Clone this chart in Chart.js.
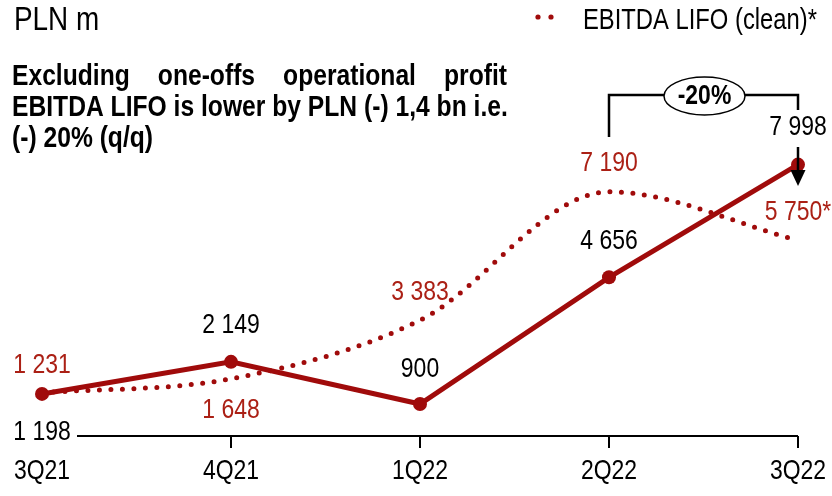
<!DOCTYPE html>
<html>
<head>
<meta charset="utf-8">
<script src="https://cdn.jsdelivr.net/npm/chart.js@4.4.1/dist/chart.umd.min.js"></script>
<style>
  html, body { margin: 0; padding: 0; background: #fff; }
  #chart { display: block; }
</style>
</head>
<body>
<canvas id="chart" width="832" height="496"></canvas>
<script>
// Data
const quarters = ['3Q21', '4Q21', '1Q22', '2Q22', '3Q22'];
const ebitdaLifo = [1198, 2149, 900, 4656, 7998];
const ebitdaLifoClean = [1231, 1648, 3383, 7190, 5750];
const cleanSuffix = ['', '', '', '', '*'];

// Label offsets (px from the point, vertical)
const lifoLabelDy = [38, -37, -35, -36, -37];
const cleanLabelDy = [-28, 32, -28, -29, -28];

const RED = '#a00b0b';
const RED_TEXT = '#ab2015';
// no Arial Narrow here: Liberation Sans squeezed horizontally instead
const FONT = '"Liberation Sans", Arial, sans-serif';
const NARROW = 0.82;

const fmt = (v) => String(v).replace(/\B(?=(\d{3})+(?!\d))/g, ' ');

function narrowText(ctx, text, x, y, sx = NARROW) {
  ctx.save();
  ctx.translate(x, y);
  ctx.scale(sx, 1);
  ctx.fillText(text, 0, 0);
  ctx.restore();
}

// Decorations: axis line, tick labels, value labels, title, legend, note, -20% bracket
const annotations = {
  id: 'annotations',
  beforeDatasetsDraw(chart) {
    const { ctx, chartArea, scales } = chart;
    ctx.save();
    ctx.strokeStyle = '#000';
    ctx.lineWidth = 2;
    ctx.beginPath();
    ctx.moveTo(scales.x.getPixelForValue(0) + 35, chartArea.bottom);
    ctx.lineTo(chartArea.right, chartArea.bottom);
    ctx.stroke();
    ctx.restore();
  },
  afterDraw(chart) {
    const { ctx, scales, chartArea } = chart;
    const x = scales.x, y = scales.y;
    ctx.save();
    ctx.textAlign = 'center';
    ctx.textBaseline = 'middle';
    ctx.font = '28px ' + FONT;

    // category labels under the axis
    ctx.fillStyle = '#000';
    quarters.forEach((q, i) => {
      narrowText(ctx, q, x.getPixelForValue(i), chartArea.bottom + 35);
    });

    ebitdaLifo.forEach((v, i) => {
      ctx.fillStyle = '#000';
      narrowText(ctx, fmt(v), x.getPixelForValue(i), y.getPixelForValue(v) + lifoLabelDy[i]);
    });
    ebitdaLifoClean.forEach((v, i) => {
      ctx.fillStyle = RED_TEXT;
      narrowText(ctx, fmt(v) + cleanSuffix[i], x.getPixelForValue(i), y.getPixelForValue(v) + cleanLabelDy[i]);
    });

    // title
    ctx.textAlign = 'left';
    ctx.textBaseline = 'alphabetic';
    ctx.fillStyle = '#000';
    ctx.font = '34px ' + FONT;
    narrowText(ctx, 'PLN m', 14, 30);

    // legend
    ctx.fillStyle = RED;
    [538, 551].forEach(cx => {
      ctx.beginPath();
      ctx.arc(cx, 17, 2.6, 0, Math.PI * 2);
      ctx.fill();
    });
    ctx.fillStyle = '#000';
    ctx.font = '29px ' + FONT;
    narrowText(ctx, 'EBITDA LIFO (clean)*', 583, 29);

    // note (first line justified)
    const bx = 0.85;
    ctx.font = 'bold 29px ' + FONT;
    const left = 12, right = 507;
    const words = ['Excluding', 'one-offs', 'operational', 'profit'];
    const total = words.reduce((s, w) => s + ctx.measureText(w).width * bx, 0);
    const gap = (right - left - total) / (words.length - 1);
    let cx = left;
    words.forEach(w => {
      narrowText(ctx, w, cx, 85, bx);
      cx += ctx.measureText(w).width * bx + gap;
    });
    narrowText(ctx, 'EBITDA LIFO is lower by PLN (-) 1,4 bn i.e.', left, 116, bx);
    narrowText(ctx, '(-) 20% (q/q)', left, 147, bx);

    // -20% bracket between 2Q22 clean and 3Q22
    const xa = x.getPixelForValue(3), xb = x.getPixelForValue(4);
    const topY = 95, ex = 704.5, ey = 96, rx = 40.5, ry = 19;
    ctx.strokeStyle = '#000';
    ctx.lineWidth = 2.5;
    ctx.beginPath();
    ctx.moveTo(xa, 137);
    ctx.lineTo(xa, topY);
    ctx.lineTo(ex - rx, topY);
    ctx.moveTo(ex + rx, topY);
    ctx.lineTo(xb, topY);
    ctx.lineTo(xb, 110);
    ctx.stroke();
    ctx.lineWidth = 1.5;
    ctx.beginPath();
    ctx.ellipse(ex, ey, rx, ry, 0, 0, Math.PI * 2);
    ctx.fillStyle = '#fff';
    ctx.fill();
    ctx.stroke();
    ctx.fillStyle = '#000';
    ctx.textAlign = 'center';
    ctx.textBaseline = 'middle';
    ctx.font = 'bold 27px ' + FONT;
    narrowText(ctx, '-20%', ex, ey + 1, bx);

    // arrow down at 3Q22
    ctx.lineWidth = 2.5;
    ctx.beginPath();
    ctx.moveTo(xb, 147);
    ctx.lineTo(xb, 172);
    ctx.stroke();
    ctx.beginPath();
    ctx.moveTo(xb - 7.5, 170);
    ctx.lineTo(xb + 7.5, 170);
    ctx.lineTo(xb, 186);
    ctx.closePath();
    ctx.fill();
    ctx.restore();
  }
};

new Chart(document.getElementById('chart'), {
  type: 'line',
  data: {
    labels: quarters,
    datasets: [
      {
        label: 'EBITDA LIFO',
        data: ebitdaLifo,
        borderColor: RED,
        backgroundColor: RED,
        borderWidth: 5,
        pointRadius: 7,
        pointBackgroundColor: RED,
        pointBorderWidth: 0,
        tension: 0,
      },
      {
        label: 'EBITDA LIFO (clean)*',
        data: ebitdaLifoClean,
        borderColor: RED,
        borderWidth: 5,
        borderDash: [0, 11.5],
        borderCapStyle: 'round',
        pointRadius: 0,
        cubicInterpolationMode: 'monotone',
      },
    ],
  },
  options: {
    responsive: false,
    animation: false,
    layout: { padding: { left: 42, right: 34, top: 60, bottom: 48 } },
    plugins: {
      legend: { display: false },
      tooltip: { enabled: false },
    },
    scales: {
      x: {
        offset: false,
        border: { display: false },
        grid: {
          drawOnChartArea: false,
          drawTicks: true,
          tickLength: 12,
          lineWidth: 2,
          color: (c) => (c.index === 0 ? 'rgba(0,0,0,0)' : '#000'),
        },
        ticks: { display: false },
      },
      y: {
        display: false,
        min: -50,
        max: 11100,
      },
    },
  },
  plugins: [annotations],
});
</script>
</body>
</html>
